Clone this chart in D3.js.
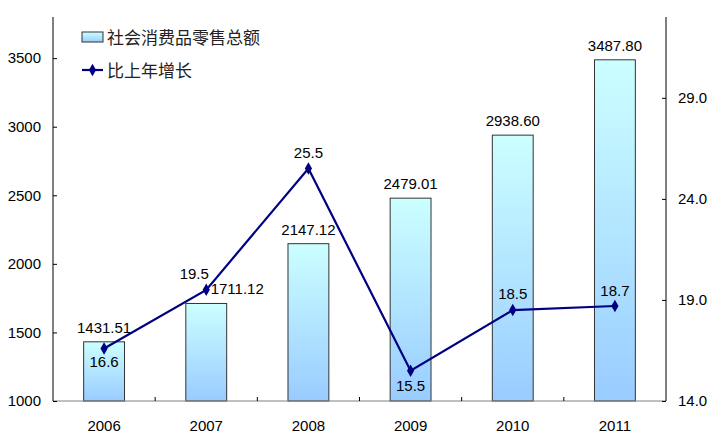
<!DOCTYPE html>
<html>
<head>
  <meta charset="UTF-8">
  <title>社会消费品零售总额</title>
  <script src="https://d3js.org/d3.v7.min.js"></script>
  <style>
    body { margin: 0; background: #fff; }
    text { font-family: "Liberation Sans", Arial, sans-serif; fill: #000; }
  </style>
</head>
<body>
  <svg width="720" height="442"></svg>

  <script>
    // Data
    const years = ["2006", "2007", "2008", "2009", "2010", "2011"];
    const sales = [1431.51, 1711.12, 2147.12, 2479.01, 2938.60, 3487.80];
    const growth = [16.6, 19.5, 25.5, 15.5, 18.5, 18.7];
    const leftTicks = [1000, 1500, 2000, 2500, 3000, 3500];
    const rightTicks = [14.0, 19.0, 24.0, 29.0];
    const seriesNames = ["社会消费品零售总额", "比上年增长"];

    // Label nudges (layout only)
    const barLabelDx = [0, 31, 0, 0, 0, 0];
    const lineLabelPos = [
      { dx: 0, dy: 19 },
      { dx: -12, dy: -11 },
      { dx: 0, dy: -11 },
      { dx: 0, dy: 20 },
      { dx: 0, dy: -11 },
      { dx: 0, dy: -10 }
    ];

    const margin = { top: 17, right: 54, bottom: 41, left: 53 };
    const width = 720 - margin.left - margin.right;
    const height = 442 - margin.top - margin.bottom;
    const fontSize = "15px";

    const svgRoot = d3.select("svg");

    // Gradient for bars
    const defs = svgRoot.append("defs");
    const grad = defs.append("linearGradient")
      .attr("id", "barGrad")
      .attr("x1", 0).attr("y1", 0).attr("x2", 0).attr("y2", 1);
    grad.append("stop").attr("offset", "0%").attr("stop-color", "#ccffff");
    grad.append("stop").attr("offset", "100%").attr("stop-color", "#99ccff");

    const svg = svgRoot.append("g")
      .attr("transform", `translate(${margin.left}, ${margin.top})`);

    // Scales
    const x = d3.scaleBand()
      .domain(years)
      .range([0, width])
      .paddingInner(0.6)
      .paddingOuter(0.3);
    const yL = d3.scaleLinear().domain([1000, 3800]).range([height, 0]);
    const yR = d3.scaleLinear().domain([14, 33]).range([height, 0]);

    // Bars
    svg.selectAll(".bar")
      .data(sales)
      .join("rect")
      .attr("class", "bar")
      .attr("x", (d, i) => x(years[i]))
      .attr("y", d => yL(d))
      .attr("width", x.bandwidth())
      .attr("height", d => height - yL(d))
      .attr("fill", "url(#barGrad)")
      .attr("stroke", "#333")
      .attr("stroke-width", 1);

    // Bar labels
    svg.selectAll(".barLabel")
      .data(sales)
      .join("text")
      .attr("class", "barLabel")
      .attr("x", (d, i) => x(years[i]) + x.bandwidth() / 2 + barLabelDx[i])
      .attr("y", d => yL(d) - 9)
      .attr("text-anchor", "middle")
      .style("font-size", fontSize)
      .text(d => d.toFixed(2));

    // X axis baseline and ticks between categories
    svg.append("line")
      .attr("x1", 0).attr("x2", width)
      .attr("y1", height).attr("y2", height)
      .attr("stroke", "#808080");
    const step = x.step();
    svg.selectAll(".xtick")
      .data(d3.range(1, years.length))
      .join("line")
      .attr("class", "xtick")
      .attr("x1", d => d * step).attr("x2", d => d * step)
      .attr("y1", height).attr("y2", height - 4)
      .attr("stroke", "#000");
    svg.selectAll(".xlabel")
      .data(years)
      .join("text")
      .attr("class", "xlabel")
      .attr("x", d => x(d) + x.bandwidth() / 2)
      .attr("y", height + 30)
      .attr("text-anchor", "middle")
      .style("font-size", fontSize)
      .text(d => d);

    // Left axis
    const leftAxis = svg.append("g")
      .call(d3.axisLeft(yL).tickValues(leftTicks).tickSize(-4).tickPadding(12).tickFormat(d3.format("d")));
    leftAxis.select(".domain").attr("d", `M0,0V${height}`).attr("stroke", "#000");
    leftAxis.selectAll("text").style("font-size", fontSize).style("font-family", "Liberation Sans, Arial, sans-serif");

    // Right axis
    const rightAxis = svg.append("g")
      .attr("transform", `translate(${width}, 0)`)
      .call(d3.axisRight(yR).tickValues(rightTicks).tickSize(-4).tickPadding(12).tickFormat(d3.format(".1f")));
    rightAxis.select(".domain").attr("d", `M0,0V${height}`).attr("stroke", "#000");
    rightAxis.selectAll("text").style("font-size", fontSize).style("font-family", "Liberation Sans, Arial, sans-serif");

    // Growth line
    const cx = i => x(years[i]) + x.bandwidth() / 2;
    const line = d3.line()
      .x((d, i) => cx(i))
      .y(d => yR(d));
    svg.append("path")
      .datum(growth)
      .attr("fill", "none")
      .attr("stroke", "#000080")
      .attr("stroke-width", 2.2)
      .attr("d", line);

    const diamond = d3.symbol().type(d3.symbolDiamond).size(45);
    svg.selectAll(".marker")
      .data(growth)
      .join("path")
      .attr("class", "marker")
      .attr("d", diamond)
      .attr("transform", (d, i) => `translate(${cx(i)}, ${yR(d)})`)
      .attr("fill", "#000080");

    svg.selectAll(".lineLabel")
      .data(growth)
      .join("text")
      .attr("class", "lineLabel")
      .attr("x", (d, i) => cx(i) + lineLabelPos[i].dx)
      .attr("y", (d, i) => yR(d) + lineLabelPos[i].dy)
      .attr("text-anchor", "middle")
      .style("font-size", fontSize)
      .text(d => d.toFixed(1));

    // Legend
    const legend = svgRoot.append("g").attr("transform", "translate(82, 32)");
    legend.append("rect")
      .attr("x", 0).attr("y", 0)
      .attr("width", 21).attr("height", 10)
      .attr("fill", "url(#barGrad)")
      .attr("stroke", "#333");
    legend.append("text")
      .attr("x", 25).attr("y", 12)
      .style("font-family", "'Noto Sans CJK SC', sans-serif")
      .style("font-size", "17px")
      .style("fill", "#222")
      .text(seriesNames[0]);
    legend.append("line")
      .attr("x1", 0).attr("x2", 21)
      .attr("y1", 38).attr("y2", 38)
      .attr("stroke", "#000080").attr("stroke-width", 2.2);
    legend.append("path")
      .attr("d", diamond)
      .attr("transform", "translate(10.5, 38)")
      .attr("fill", "#000080");
    legend.append("text")
      .attr("x", 25).attr("y", 45)
      .style("font-family", "'Noto Sans CJK SC', sans-serif")
      .style("font-size", "17px")
      .style("fill", "#222")
      .text(seriesNames[1]);
  </script>
</body>
</html>
